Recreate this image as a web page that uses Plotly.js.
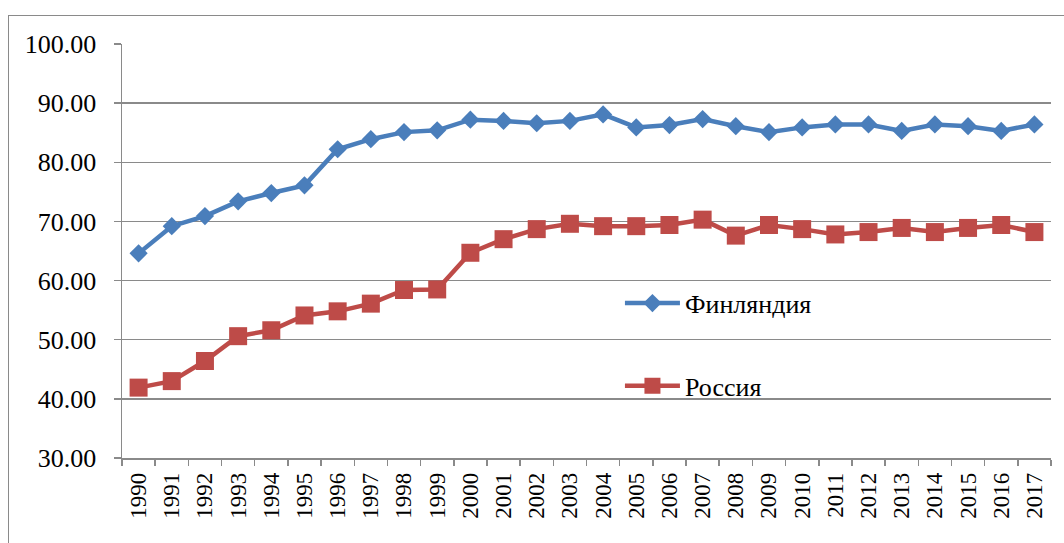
<!DOCTYPE html>
<html>
<head>
<meta charset="utf-8">
<script src="https://cdn.plot.ly/plotly-3.0.1.min.js"></script>
<style>
  html, body { margin: 0; padding: 0; background: #fff; }
  #wrap { position: relative; width: 1064px; height: 543px; overflow: hidden; }
  #chart { width: 1064px; height: 543px; }
  #frame { position: absolute; left: 8px; top: 15px; width: 1200px; height: 700px;
           border: 1.5px solid #8a8a8a; pointer-events: none; box-sizing: border-box; }
</style>
</head>
<body>
<div id="wrap">
  <div id="chart"></div>
  <div id="frame"></div>
</div>
<script>
const years = ['1990','1991','1992','1993','1994','1995','1996','1997','1998','1999',
  '2000','2001','2002','2003','2004','2005','2006','2007','2008','2009',
  '2010','2011','2012','2013','2014','2015','2016','2017'];
const finland = [64.6, 69.2, 70.9, 73.4, 74.8, 76.1, 82.2, 83.9, 85.1, 85.4,
  87.2, 87.0, 86.6, 87.0, 88.1, 85.9, 86.3, 87.3, 86.1, 85.1,
  85.9, 86.4, 86.4, 85.3, 86.4, 86.1, 85.3, 86.4];
const russia = [41.9, 43.0, 46.4, 50.6, 51.6, 54.1, 54.8, 56.1, 58.4, 58.5,
  64.7, 67.0, 68.7, 69.6, 69.2, 69.2, 69.4, 70.3, 67.6, 69.4,
  68.7, 67.8, 68.2, 68.9, 68.2, 68.9, 69.4, 68.2];
const names = ['Финляндия', 'Россия'];
const yTicks = [30, 40, 50, 60, 70, 80, 90, 100];

const FAMILY = 'Liberation Serif, Times New Roman, serif';

const traces = [
  {x: years, y: finland, name: names[0], type: 'scatter', mode: 'lines+markers',
   line: {color: '#4A7EBB', width: 4.5},
   marker: {symbol: 'diamond', size: 14, color: '#4A7EBB'},
   legend: 'legend'},
  {x: years, y: russia, name: names[1], type: 'scatter', mode: 'lines+markers',
   line: {color: '#BE4B48', width: 4.5},
   marker: {symbol: 'square', size: 18, color: '#BE4B48'},
   legend: 'legend2'}
];

const legendCommon = {
  xref: 'paper', yref: 'paper', xanchor: 'left', yanchor: 'middle',
  bgcolor: 'rgba(0,0,0,0)', borderwidth: 0, itemwidth: 55,
  font: {family: FAMILY, size: 26, color: '#000'}
};

const layout = {
  width: 1064, height: 543,
  margin: {l: 122, r: 13, t: 44, b: 85, autoexpand: false},
  paper_bgcolor: '#fff', plot_bgcolor: '#fff',
  font: {family: FAMILY, color: '#000'},
  xaxis: {
    type: 'category', range: [-0.5, years.length - 0.5],
    showgrid: false, zeroline: false,
    tickmode: 'array', tickvals: years, ticktext: years,
    showline: true, linecolor: '#8a8a8a', linewidth: 1.5,
    ticks: 'outside', tickson: 'boundaries', ticklen: 6, tickwidth: 1.5, tickcolor: '#8a8a8a',
    tickangle: -90, tickfont: {family: FAMILY, size: 23, color: '#000'},
    ticklabelstandoff: 4, automargin: false
  },
  yaxis: {
    range: [30, 100], tickvals: yTicks, tickformat: '.2f',
    showgrid: true, gridcolor: '#8a8a8a', gridwidth: 1.5, zeroline: false,
    showline: true, linecolor: '#8a8a8a', linewidth: 1.5,
    ticks: 'outside', ticklen: 7, tickwidth: 1.5, tickcolor: '#8a8a8a',
    tickfont: {family: FAMILY, size: 26, color: '#000'},
    ticklabelstandoff: 12, automargin: false
  },
  legend: Object.assign({}, legendCommon, {x: 0.536, y: 0.374}),
  legend2: Object.assign({}, legendCommon, {x: 0.536, y: 0.174}),
  showlegend: true
};

Plotly.newPlot('chart', traces, layout, {displayModeBar: false, staticPlot: true});
</script>
</body>
</html>
